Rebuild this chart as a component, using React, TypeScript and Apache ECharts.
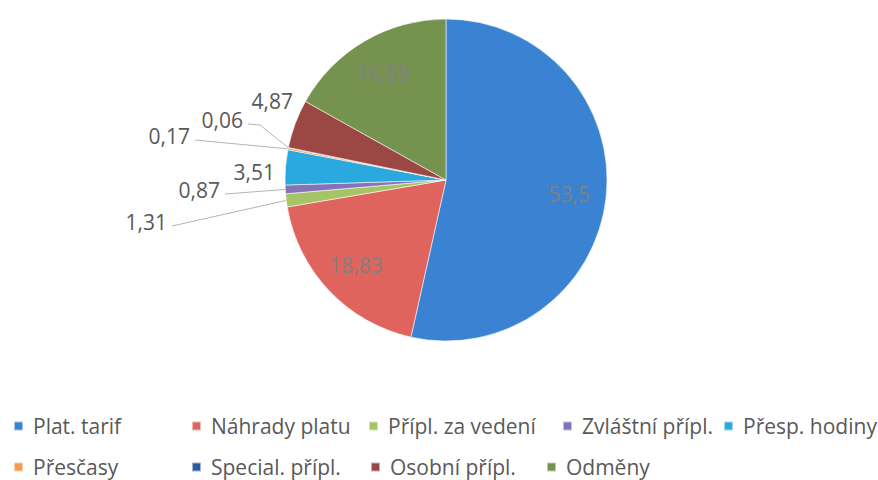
import React, { useEffect, useRef } from "react";
import * as echarts from "echarts";

// ---- data ----
const categories = [
  "Plat. tarif",
  "Náhrady platu",
  "Přípl. za vedení",
  "Zvláštní přípl.",
  "Přesp. hodiny",
  "Přesčasy",
  "Special. přípl.",
  "Osobní přípl.",
  "Odměny",
];
const values = [53.5, 18.83, 1.31, 0.87, 3.51, 0.17, 0.06, 4.87, 16.89];

// ---- styles ----
const colors = [
  "#3a82d2",
  "#e0645e",
  "#a5c466",
  "#8573b8",
  "#2aa9de",
  "#f39a4d",
  "#2c5a9a",
  "#9b4744",
  "#75924f",
];
const insideLabels = new Set(["Plat. tarif", "Náhrady platu", "Odměny"]);
const noLineLabels = new Set(["Přesp. hodiny", "Osobní přípl."]);
// right edge x, centre y, elbow dx of the leader line
const outsideLabelBox: Record<string, [number, number, number]> = {
  "Přípl. za vedení": [167, 222, 0],
  "Zvláštní přípl.": [220, 190, 0],
  "Přesp. hodiny": [275, 172, 0],
  "Přesčasy": [190, 136, 0],
  "Special. přípl.": [243, 120, 12],
  "Osobní přípl.": [293, 101, 0],
};
const legendPos: [number, number][] = [
  [13, 414],
  [191, 414],
  [368, 414],
  [562, 414],
  [723, 414],
  [13, 455],
  [191, 455],
  [370, 455],
  [546, 455],
];

const CX = 446;
const CY = 180;
const R = 161;
const R_IN = 124;
const FONT = "'Open Sans', 'Noto Sans', sans-serif";

const fmt = (v: number) => String(v).replace(".", ",");

export default function App() {
  const ref = useRef<HTMLDivElement>(null);

  useEffect(() => {
    const chart = echarts.init(ref.current!, null, { renderer: "svg" });
    const total = values.reduce((a, b) => a + b, 0);
    const midAngles = values.map((v, i) => {
      const before = values.slice(0, i).reduce((a, b) => a + b, 0);
      return ((before + v / 2) / total) * Math.PI * 2;
    });

    const legends = categories.map((name, i) => ({
      data: [name],
      left: legendPos[i][0],
      top: legendPos[i][1],
      padding: 0,
      icon: "rect",
      itemWidth: 9,
      itemHeight: 9,
      selectedMode: false,
      textStyle: {
        fontFamily: FONT,
        fontSize: 21,
        lineHeight: 24,
        color: "#595959",
        padding: [0, 0, 0, 5],
      },
    }));

    chart.setOption({
      animation: false,
      backgroundColor: "#ffffff",
      color: colors,
      legend: legends,
      series: [
        {
          type: "pie",
          center: [CX, CY],
          radius: R,
          startAngle: 90,
          clockwise: true,
          avoidLabelOverlap: false,
          itemStyle: {
            borderColor: "rgba(255,255,255,0.55)",
            borderWidth: 1,
          },
          label: {
            show: true,
            position: "outside",
            formatter: (p: any) => fmt(p.value),
            fontFamily: FONT,
            fontSize: 21,
            color: "#595959",
          },
          labelLine: {
            show: true,
            lineStyle: { color: "#b4b4b4", width: 1 },
          },
          labelLayout: (p: any) => {
            const i = p.dataIndex;
            const a = midAngles[i];
            const name = categories[i];
            if (insideLabels.has(name)) {
              return {
                x: CX + R_IN * Math.sin(a),
                y: CY - R_IN * Math.cos(a),
                align: "center",
                verticalAlign: "middle",
              };
            }
            const box = outsideLabelBox[name];
            const ex = CX + R * Math.sin(a);
            const ey = CY - R * Math.cos(a);
            const sx = box[0] + 5;
            const sy = box[1] + 4;
            return {
              x: box[0],
              y: box[1],
              align: "right",
              verticalAlign: "middle",
              labelLinePoints: [
                [ex, ey],
                [sx + box[2], sy + (box[2] ? 1 : 0)],
                [sx, sy],
              ],
            };
          },
          data: categories.map((name, i) => ({
            name,
            value: values[i],
            label: insideLabels.has(name)
              ? { position: "inside", color: "#808080", fontSize: 21 }
              : undefined,
            labelLine:
              insideLabels.has(name) || noLineLabels.has(name)
                ? { show: false }
                : undefined,
          })),
        },
      ],
    });

    return () => chart.dispose();
  }, []);

  return (
    <div
      ref={ref}
      style={{
        position: "fixed",
        left: 0,
        top: 0,
        width: 878,
        height: 480,
        background: "#fff",
      }}
    />
  );
}
